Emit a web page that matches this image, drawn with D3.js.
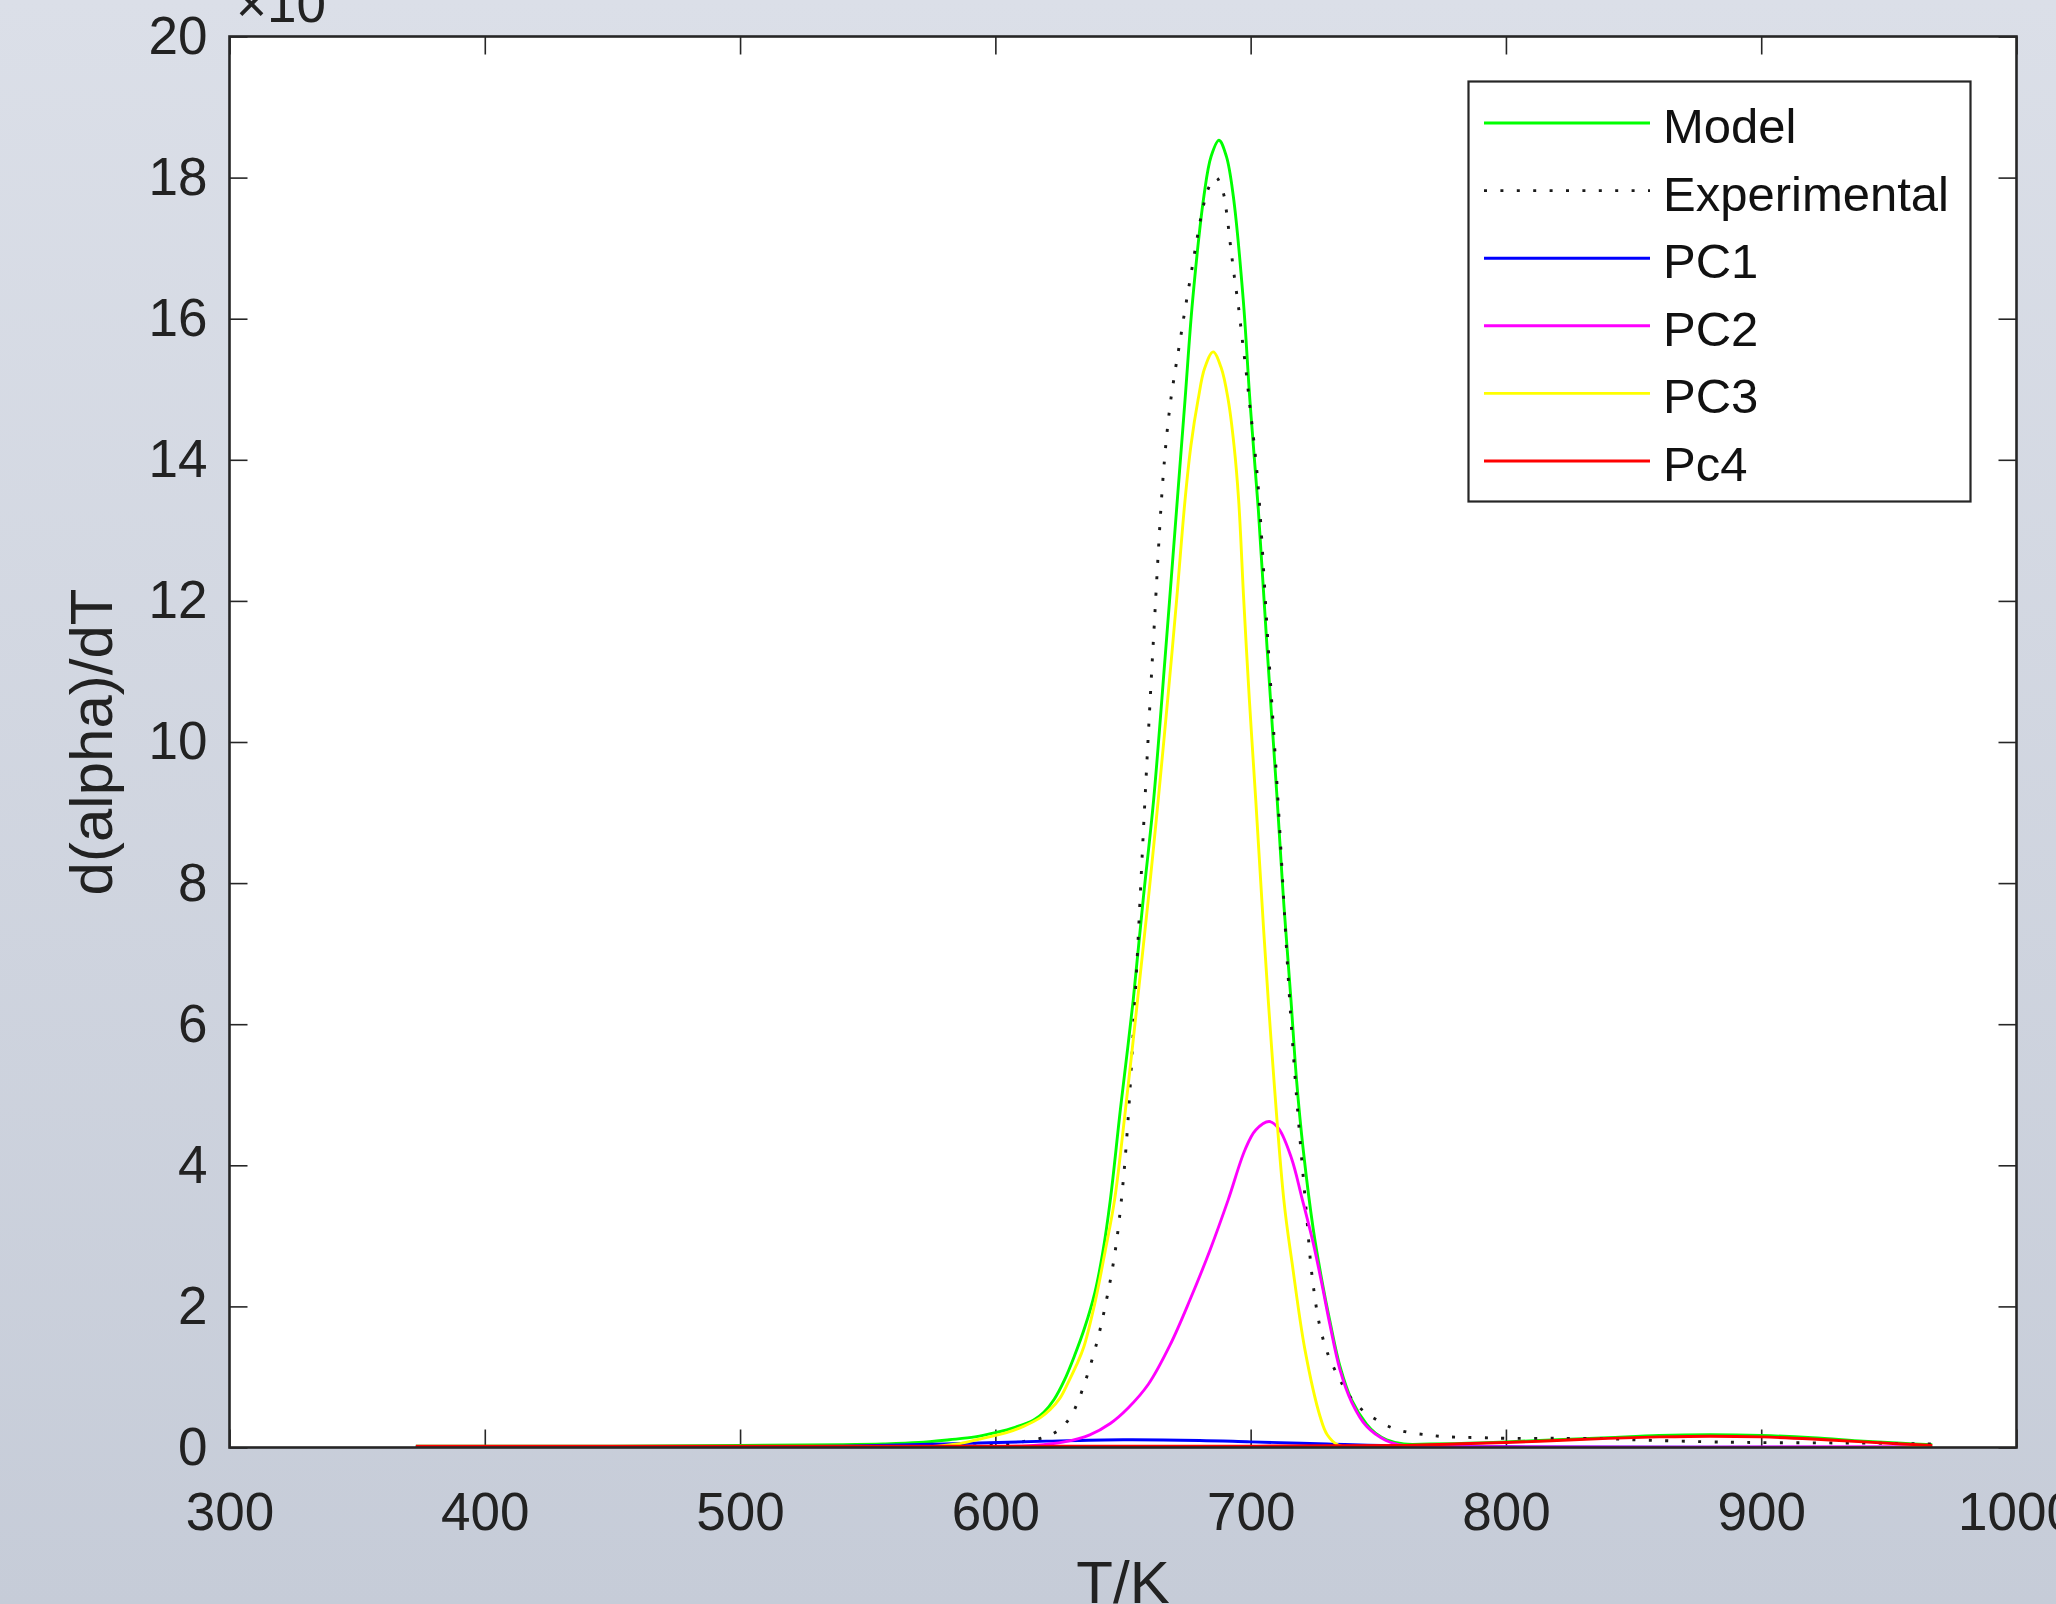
<!DOCTYPE html>
<html>
<head>
<meta charset="utf-8">
<script src="https://cdnjs.cloudflare.com/ajax/libs/d3/7.8.5/d3.min.js"></script>
<style>
  body { margin: 0; padding: 0; overflow: hidden; }
  svg { display: block; font-family: "Liberation Sans", Arial, Helvetica, sans-serif; }
</style>
</head>
<body>
<svg id="chart"></svg>
<script>
// tick values
var xTicks = [300, 400, 500, 600, 700, 800, 900, 1000],
    yTicks = [0, 2, 4, 6, 8, 10, 12, 14, 16, 18, 20];

// series: [T (K), d(alpha)/dT]
var model = [[373,0.02],[450,0.02],[500,0.03],[540,0.04],[556,0.05],[570,0.07],[582,0.11],[592,0.15],[600,0.21],[608,0.29],[615,0.39],[619,0.5],[623,0.68],[627,0.95],[631,1.3],[635,1.7],[639,2.2],[642,2.75],[645,3.5],[649,4.8],[654,6.34],[658,7.8],[662,9.18],[666.5,11.2],[671,13.3],[674.3,14.85],[677.3,16.27],[681.7,17.74],[684.5,18.3],[687.6,18.53],[690.5,18.3],[693.2,17.74],[697.1,16.27],[699.7,14.85],[703,13.3],[706.5,11.3],[710.4,9.18],[713,7.7],[715.8,6.34],[718,5.2],[720.6,4.22],[724.5,3.1],[728,2.35],[731,1.8],[735,1.15],[739.6,0.67],[745.4,0.33],[749,0.2],[753.3,0.11],[760,0.05],[770,0.05],[785,0.06],[800,0.08],[820,0.11],[840,0.14],[860,0.17],[880,0.18],[900,0.17],[920,0.14],[940,0.09],[955,0.06],[967,0.04]];

var experimental = [[373,0],[450,0],[500,0],[520,-0.02],[535,-0.04],[550,-0.01],[570,0.01],[590,0.02],[605,0.05],[612,0.09],[618.8,0.14],[624.6,0.24],[629.2,0.42],[632,0.62],[634.3,0.84],[636.5,1.08],[639.7,1.48],[642.9,1.98],[646.6,2.7],[649.2,3.45],[651.7,4.5],[654.7,6.34],[658.6,9.18],[662,11.5],[665.8,13.8],[668.4,14.76],[670.6,15.3],[672.5,15.72],[674.3,16.13],[676.5,16.6],[678.6,17.05],[680.9,17.5],[683.5,17.85],[686.5,18.0],[689.3,17.78],[690.6,17.5],[692,17.07],[693.6,16.6],[695.3,16.15],[696.8,15.68],[698.3,15.23],[699.7,14.76],[701.3,14.25],[703,13.6],[706.8,11.4],[710.7,9.18],[715,6.5],[717.5,5.2],[719.5,4.3],[721.9,3.3],[724,2.45],[727.1,1.72],[730.5,1.3],[733.7,1.05],[736.5,0.86],[740.2,0.66],[744.8,0.5],[750.4,0.37],[756,0.27],[762.4,0.21],[769,0.18],[775,0.155],[782,0.146],[790,0.14],[800,0.13],[820,0.13],[840,0.125],[850,0.11],[880,0.08],[900,0.07],[950,0.06],[967,0.05]];

var pc1 = [[373,0.01],[500,0.01],[540,0.02],[580,0.05],[620,0.09],[650,0.11],[680,0.1],[700,0.08],[730,0.05],[760,0.02],[800,0.01],[967,0]];

var pc2 = [[373,0],[560,0],[600,0.01],[615,0.03],[627,0.08],[637,0.18],[645,0.34],[652,0.56],[660,0.9],[668.4,1.45],[676.2,2.09],[684.1,2.8],[691.2,3.51],[697.8,4.22],[702,4.5],[707.3,4.62],[711,4.52],[716,4.1],[720,3.55],[724.5,2.9],[728,2.3],[731,1.75],[735,1.1],[739.6,0.64],[745.4,0.3],[753,0.1],[760,0.03],[780,0.01],[967,0.01]];

var pc3 = [[373,0],[500,0],[560,0],[574,0.01],[585,0.05],[592.7,0.11],[604.4,0.21],[611,0.3],[617.5,0.42],[621.5,0.54],[625.3,0.7],[628.5,0.92],[631.8,1.17],[634.6,1.42],[639,2.05],[643,2.78],[646.7,3.51],[651,4.8],[655.7,6.34],[660,7.8],[663.8,9.18],[667.5,10.6],[671,12.01],[674.3,13.43],[676.6,14.2],[679.4,14.85],[682,15.3],[685.3,15.53],[688.5,15.3],[691.2,14.85],[693.5,14.2],[695.3,13.43],[697.3,12.01],[699.5,10.6],[702,9.18],[706.9,6.34],[713,3.51],[716.3,2.6],[721.3,1.38],[727.2,0.44],[730,0.18],[734,0.04],[740,0],[967,0]];

var pc4 = [[373,0.02],[500,0.02],[600,0.02],[700,0.02],[760,0.03],[780,0.05],[800,0.07],[820,0.1],[840,0.13],[860,0.15],[880,0.16],[900,0.15],[920,0.12],[940,0.08],[955,0.05],[967,0.03]];

var seriesNames = ["Model", "Experimental", "PC1", "PC2", "PC3", "Pc4"],
    seriesData = [model, experimental, pc1, pc2, pc3, pc4],
    colors = ["#00ff00", "#1a1a1a", "#0000ff", "#ff00ff", "#ffff00", "#ff0000"];

var W = 2056, H = 1604,
    plotL = 229.5, plotR = 2016.5, plotT = 36.5, plotB = 1447.5,
    axisColor = "#262626",
    lineW = 2.9,
    dotted = "3 13.4";

var svg = d3.select("#chart").attr("width", W).attr("height", H);

var defs = svg.append("defs");
var grad = defs.append("linearGradient").attr("id", "bg")
    .attr("x1", 0).attr("y1", 0).attr("x2", 0).attr("y2", 1);
grad.append("stop").attr("offset", "0%").attr("stop-color", "#dbdfe8");
grad.append("stop").attr("offset", "100%").attr("stop-color", "#c6ccd8");
defs.append("clipPath").attr("id", "plotclip")
    .append("rect").attr("x", plotL).attr("y", plotT)
    .attr("width", plotR - plotL).attr("height", plotB - plotT);

svg.append("rect").attr("width", W).attr("height", H).attr("fill", "url(#bg)");
svg.append("rect").attr("x", plotL).attr("y", plotT)
    .attr("width", plotR - plotL).attr("height", plotB - plotT).attr("fill", "#fff");

var x = d3.scaleLinear().domain([300, 1000]).range([plotL, plotR]);
var y = d3.scaleLinear().domain([0, 20]).range([plotB, plotT]);

// axes, ticks pointing inward like matlab
function styleAxis(g) {
    g.select(".domain").remove();
    g.selectAll(".tick line").attr("stroke", axisColor).attr("stroke-width", 1.6);
    g.selectAll(".tick text").attr("fill", "#222").style("font-size", "53px")
        .style("font-family", '"Liberation Sans", Arial, sans-serif');
}

svg.append("g").attr("transform", "translate(0," + plotB + ")")
    .call(d3.axisBottom(x).tickValues(xTicks).tickFormat(d3.format("d"))
        .tickSizeInner(-18).tickSizeOuter(0).tickPadding(45))
    .call(styleAxis);
svg.append("g").attr("transform", "translate(0," + plotT + ")")
    .call(d3.axisTop(x).tickValues(xTicks).tickSizeInner(-18).tickSizeOuter(0).tickFormat(""))
    .call(styleAxis);
svg.append("g").attr("transform", "translate(" + plotL + ",0)")
    .call(d3.axisLeft(y).tickValues(yTicks).tickFormat(d3.format("d"))
        .tickSizeInner(-18).tickSizeOuter(0).tickPadding(22))
    .call(styleAxis);
svg.append("g").attr("transform", "translate(" + plotR + ",0)")
    .call(d3.axisRight(y).tickValues(yTicks).tickSizeInner(-18).tickSizeOuter(0).tickFormat(""))
    .call(styleAxis);

// lines
var line = d3.line()
    .x(function(d) { return x(d[0]); })
    .y(function(d) { return y(d[1]); })
    .curve(d3.curveCatmullRom.alpha(0.5));

svg.append("g").attr("clip-path", "url(#plotclip)")
    .selectAll("path")
    .data(seriesData)
    .enter()
    .append("path")
    .attr("d", line)
    .attr("fill", "none")
    .attr("stroke", function(d, i) { return colors[i]; })
    .attr("stroke-width", lineW)
    .attr("stroke-dasharray", function(d, i) { return i == 1 ? dotted : null; });

// box
svg.append("rect").attr("x", plotL).attr("y", plotT)
    .attr("width", plotR - plotL).attr("height", plotB - plotT)
    .attr("fill", "none").attr("stroke", axisColor).attr("stroke-width", 2.6);

// exponent label (cut off at the top edge)
svg.append("text").attr("x", 236).attr("y", 22)
    .attr("fill", "#222").style("font-size", "53px").text("\u00d710");

// axis labels
svg.append("text")
    .attr("transform", "translate(112," + ((plotT + plotB) / 2) + ") rotate(-90)")
    .attr("text-anchor", "middle").attr("fill", "#222")
    .style("font-size", "60px").text("d(alpha)/dT");
svg.append("text")
    .attr("x", (plotL + plotR) / 2).attr("y", 1603)
    .attr("text-anchor", "middle").attr("fill", "#222")
    .style("font-size", "60px").text("T/K");

// legend
var lg = svg.append("g");
lg.append("rect").attr("x", 1468.5).attr("y", 81.5)
    .attr("width", 502).attr("height", 420)
    .attr("fill", "#fff").attr("stroke", axisColor).attr("stroke-width", 2.2);

var rows = lg.selectAll("g.row")
    .data(seriesNames)
    .enter()
    .append("g")
    .attr("class", "row")
    .attr("transform", function(d, i) { return "translate(0," + (123 + i * 67.6) + ")"; });

rows.append("line")
    .attr("x1", 1484).attr("x2", 1650).attr("y1", 0).attr("y2", 0)
    .attr("stroke", function(d, i) { return colors[i]; })
    .attr("stroke-width", lineW)
    .attr("stroke-dasharray", function(d, i) { return i == 1 ? dotted : null; });

rows.append("text")
    .attr("x", 1663).attr("y", 20)
    .attr("fill", "#111").style("font-size", "49px")
    .text(function(d) { return d; });
</script>
</body>
</html>
